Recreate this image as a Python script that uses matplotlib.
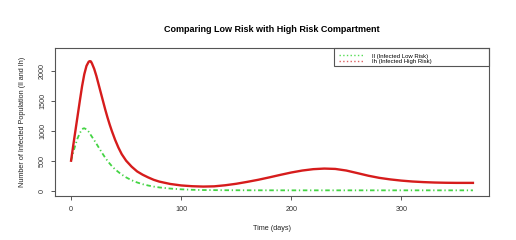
import matplotlib
matplotlib.use('Agg')
import matplotlib.pyplot as plt
from matplotlib.patches import Rectangle

plt.rcParams['font.family'] = ['Liberation Sans', 'DejaVu Sans']

# days
t_high = [0, 2, 4, 6, 8, 10, 12, 14, 16, 17, 18, 19, 21, 23, 25, 27, 29, 31,
          33, 35, 37, 40, 43, 46, 50, 55, 60, 65, 70, 75, 80, 90, 100, 110,
          120, 130, 140, 150, 160, 170, 180, 190, 200, 210, 220, 230, 240, 250,
          260, 270, 280, 290, 300, 310, 320, 330, 340, 350, 365]
ih = [500, 760, 1010, 1260, 1510, 1750, 1950, 2090, 2160, 2170, 2165, 2130,
      2040, 1920, 1780, 1640, 1500, 1360, 1230, 1110, 1000, 850, 720, 610, 500,
      400, 320, 265, 220, 180, 150, 110, 85, 72, 66, 70, 88, 113, 145, 180,
      220, 262, 302, 335, 358, 368, 362, 335, 292, 248, 212, 186, 166, 151,
      141, 134, 130, 128, 128]

t_low = [0, 2, 4, 6, 8, 10, 11, 12, 14, 16, 19, 22, 25, 28, 31, 34, 37, 40, 45,
         50, 55, 60, 65, 70, 75, 80, 90, 100, 110, 120, 140, 160, 200, 250,
         300, 365]
il = [500, 640, 770, 880, 965, 1025, 1040, 1044, 1025, 985, 900, 815, 725, 635,
      550, 475, 410, 355, 280, 220, 172, 135, 106, 84, 66, 52, 33, 20, 12, 8,
      5, 4, 3, 3, 3, 3]

xticks = [0, 100, 200, 300]
yticks = [0, 500, 1000, 1500, 2000]
labels = ['Il (Infected Low Risk)', 'Ih (Infected High Risk)']

fig = plt.figure(figsize=(5.16, 2.4), dpi=100)
ax = fig.add_axes([55 / 516, 1 - 196 / 240, 434 / 516, 148 / 240])

ax.plot(t_high, ih, color='#d61c1c', lw=1.7, zorder=3)
ax.plot(t_low, il, color='#44d444', lw=1.3, dashes=(2.5, 1.5, 0.7, 1.5),
        zorder=2)
# legend keys: thin, faint, dotted (as R draws them)
ax.plot([], [], color='#55dd55', lw=1.0, ls=':', label=labels[0])
ax.plot([], [], color='#dd6060', lw=1.0, ls=':', label=labels[1])

ax.set_xlim(-14.6, 379.6)
ax.set_ylim(-92, 2390)
ax.set_xticks(xticks)
ax.set_yticks(yticks)

for s in ax.spines.values():
    s.set_color('#555555')
    s.set_linewidth(0.8)
ax.tick_params(colors='#555555', labelcolor='#333333', labelsize=5.2,
               length=3, width=0.7)
ax.tick_params(axis='x', pad=4.5)
ax.tick_params(axis='y', pad=3.5)
for lab in ax.get_yticklabels():
    lab.set_rotation(90)
    lab.set_va('center')

ax.set_xlabel('Time (days)', fontsize=5.2, color='#222222', va='center')
ax.xaxis.set_label_coords(0.5, (196 - 228) / 148)
ax.set_ylabel('Number of Infected Population (Il and Ih)', fontsize=5.2,
              color='#222222', va='center')
ax.yaxis.set_label_coords((23 - 55) / 434, 0.5)

fig.text(272 / 516, 1 - 29 / 240, 'Comparing Low Risk with High Risk Compartment',
         ha='center', va='center', fontsize=6.5, fontweight='bold')

# legend box like R's
x0 = (334 - 55) / 434
ax.add_patch(Rectangle((x0, (196 - 66) / 148), 1 - x0, 18 / 148,
                       transform=ax.transAxes, fill=False, ec='#555555',
                       lw=0.8, clip_on=False, zorder=5))
ax.legend(loc='upper left', bbox_to_anchor=(x0, 1.0),
          frameon=False, fontsize=4.3, handlelength=4.2,
          handletextpad=1.3, labelspacing=0.05, borderpad=0.5,
          borderaxespad=0.4)

fig.savefig('out.png', dpi=100, facecolor='white')
